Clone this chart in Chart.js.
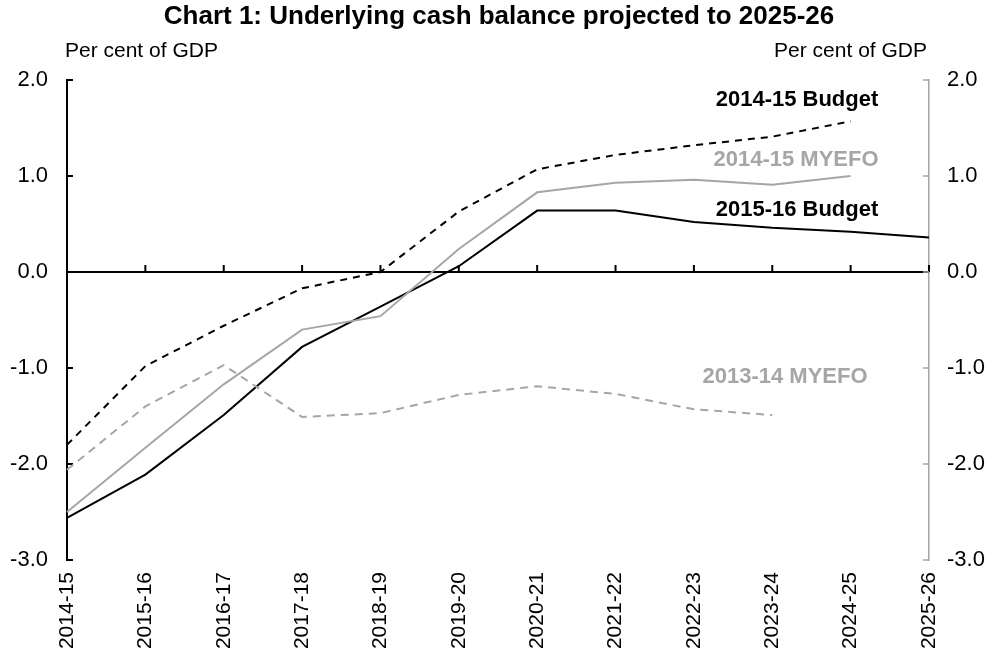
<!DOCTYPE html>
<html>
<head>
<meta charset="utf-8">
<script src="https://cdn.jsdelivr.net/npm/chart.js@4.4.1/dist/chart.umd.min.js"></script>
<style>
  body { margin: 0; background: #fff; }
  canvas { display: block; }
</style>
</head>
<body>
<canvas id="cashChart" width="985" height="656"></canvas>
<script>
//---------------------------------------------------------
// Data (per cent of GDP)
const years = ["2014-15", "2015-16", "2016-17", "2017-18", "2018-19", "2019-20",
               "2020-21", "2021-22", "2022-23", "2023-24", "2024-25", "2025-26"];
const budget1516 = [-2.56, -2.11, -1.49, -0.78, -0.36, 0.06, 0.64, 0.64, 0.52, 0.46, 0.42, 0.36];
const budget1415 = [-1.80, -0.98, -0.56, -0.17, 0.00, 0.63, 1.07, 1.22, 1.32, 1.41, 1.57, null];
const myefo1415 = [-2.50, -1.83, -1.17, -0.60, -0.46, 0.24, 0.83, 0.93, 0.96, 0.91, 1.00, null];
const myefo1314 = [-2.06, -1.40, -0.97, -1.51, -1.47, -1.28, -1.19, -1.27, -1.43, -1.49, null, null];
const yTicks = [-3, -2, -1, 0, 1, 2];

const GREY = "#a6a6a6";
const FONT = "'Liberation Sans', Arial, sans-serif";

//---------------------------------------------------------
// Plugin: zero line, inward tick marks, title and series labels
const decorations = {
  id: "decorations",
  beforeDatasetsDraw(chart) {
    const { ctx, scales: { x, y, y2 } } = chart;
    const zeroY = y.getPixelForValue(0);
    ctx.save();
    // zero line with upward ticks
    ctx.strokeStyle = "#000";
    ctx.lineWidth = 2;
    ctx.beginPath();
    ctx.moveTo(x.left, zeroY);
    ctx.lineTo(x.right, zeroY);
    years.forEach((yr, i) => {
      const px = x.getPixelForValue(i);
      ctx.moveTo(px, zeroY);
      ctx.lineTo(px, zeroY - 7);
    });
    ctx.stroke();
    // left axis ticks (inward)
    ctx.beginPath();
    yTicks.forEach(v => {
      const py = y.getPixelForValue(v);
      ctx.moveTo(x.left, py);
      ctx.lineTo(x.left + 6, py);
    });
    ctx.stroke();
    // right axis ticks (inward, grey)
    ctx.strokeStyle = GREY;
    ctx.lineWidth = 1.5;
    ctx.beginPath();
    yTicks.forEach(v => {
      const py = y2.getPixelForValue(v);
      ctx.moveTo(x.right, py);
      ctx.lineTo(x.right - 6, py);
    });
    ctx.stroke();
    ctx.restore();
  },
  afterDraw(chart) {
    const { ctx } = chart;
    ctx.save();
    ctx.textBaseline = "middle";
    // title
    ctx.fillStyle = "#000";
    ctx.font = "bold 26px " + FONT;
    ctx.textAlign = "center";
    ctx.fillText("Chart 1: Underlying cash balance projected to 2025-26", 499, 17);
    // axis units
    ctx.font = "21px " + FONT;
    ctx.textAlign = "left";
    ctx.fillText("Per cent of GDP", 65, 51);
    ctx.textAlign = "right";
    ctx.fillText("Per cent of GDP", 927, 51);
    // series labels
    ctx.font = "bold 22px " + FONT;
    ctx.textAlign = "center";
    ctx.fillStyle = "#000";
    ctx.fillText("2014-15 Budget", 797, 100);
    ctx.fillText("2015-16 Budget", 797, 210);
    ctx.fillStyle = GREY;
    ctx.fillText("2014-15 MYEFO", 796, 160);
    ctx.fillText("2013-14 MYEFO", 785, 377);
    ctx.restore();
  }
};

//---------------------------------------------------------
// Chart definition
const ctx = document.getElementById("cashChart").getContext("2d");
new Chart(ctx, {
  type: "line",
  data: {
    labels: years,
    datasets: [
      { label: "2013-14 MYEFO", data: myefo1314, borderColor: GREY, borderWidth: 2, borderDash: [8, 6] },
      { label: "2014-15 MYEFO", data: myefo1415, borderColor: GREY, borderWidth: 2 },
      { label: "2014-15 Budget", data: budget1415, borderColor: "#000", borderWidth: 2, borderDash: [7, 6] },
      { label: "2015-16 Budget", data: budget1516, borderColor: "#000", borderWidth: 2 },
    ],
  },
  options: {
    responsive: false,
    animation: false,
    layout: { padding: { top: 80, left: 0, right: 0, bottom: 0 } },
    elements: { point: { radius: 0 }, line: { tension: 0, fill: false } },
    scales: {
      x: {
        type: "category",
        offset: false,
        grid: { display: false, drawTicks: false },
        border: { display: false },
        ticks: {
          color: "#000",
          font: { family: FONT, size: 21 },
          maxRotation: 90,
          minRotation: 90,
          padding: 12,
          autoSkip: false,
        },
        afterFit: (scale) => { scale.height = 96; },
      },
      y: {
        position: "left",
        min: -3,
        max: 2,
        grid: { display: false, drawTicks: false },
        border: { display: true, color: "#000", width: 2 },
        ticks: {
          stepSize: 1,
          color: "#000",
          font: { family: FONT, size: 22 },
          padding: 19,
          callback: (v) => v.toFixed(1),
        },
        afterFit: (scale) => { scale.width = 67; },
      },
      y2: {
        position: "right",
        min: -3,
        max: 2,
        grid: { display: false, drawTicks: false },
        border: { display: true, color: GREY, width: 1.5 },
        ticks: {
          stepSize: 1,
          color: "#000",
          font: { family: FONT, size: 22 },
          padding: 18,
          callback: (v) => v.toFixed(1),
        },
        afterFit: (scale) => { scale.width = 56; },
      },
    },
    plugins: {
      legend: { display: false },
      title: { display: false },
      tooltip: { enabled: false },
    },
  },
  plugins: [decorations],
});
</script>
</body>
</html>
